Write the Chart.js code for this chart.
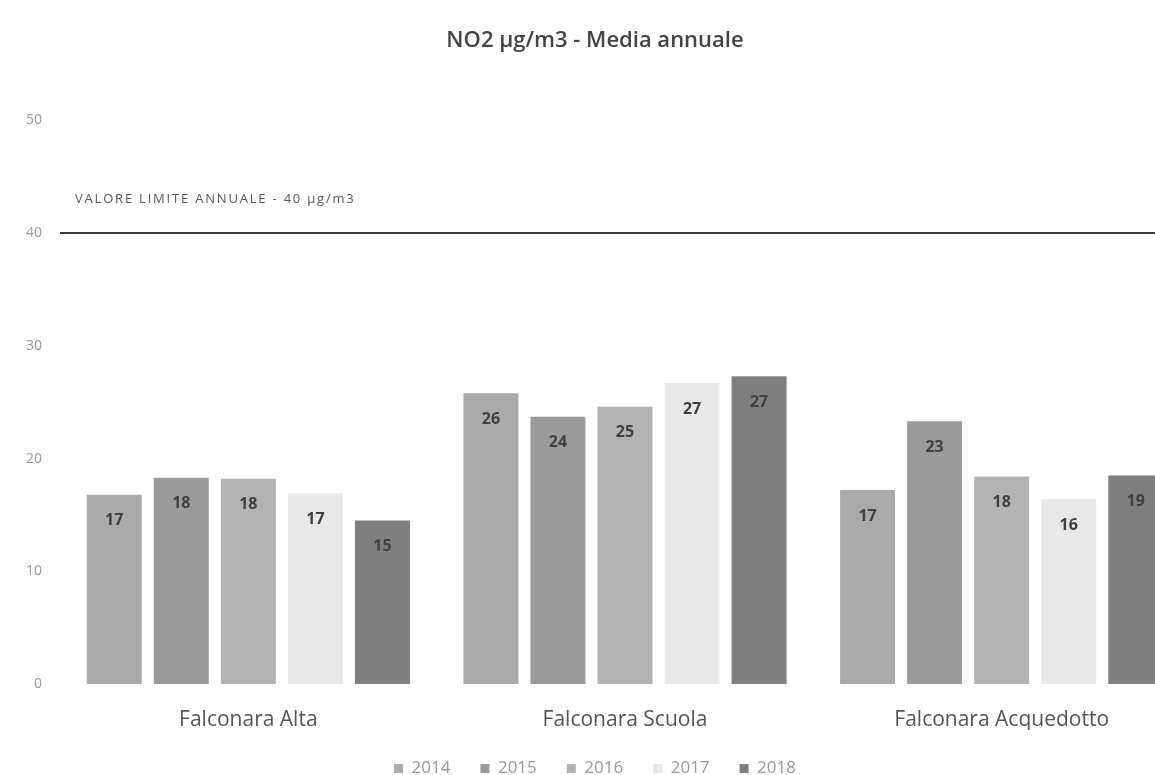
<!DOCTYPE html>
<html>
<head>
<meta charset="utf-8">
<script src="https://cdn.jsdelivr.net/npm/chart.js@4/dist/chart.umd.min.js"></script>
<style>
    html, body { margin: 0; padding: 0; background: #fff; overflow: hidden; }
    #wrap { width: 1190px; height: 787px; }
</style>
</head>
<body>
<div id="wrap"><canvas id="no2Chart"></canvas></div>
<script>
const stations = ['Falconara Alta', 'Falconara Scuola', 'Falconara Acquedotto'];
const years = ['2014', '2015', '2016', '2017', '2018'];
const values2014 = [16.8, 25.8, 17.2];
const values2015 = [18.3, 23.7, 23.3];
const values2016 = [18.2, 24.6, 18.4];
const values2017 = [16.9, 26.7, 16.4];
const values2018 = [14.5, 27.3, 18.5];
const yearColors = ['#aaaaaa', '#9b9b9b', '#b3b3b3', '#e8e8e8', '#7f7f7f'];
const limitValue = 40;
const limitLabel = 'VALORE LIMITE ANNUALE - 40 µg/m3';

const fontFamily = '"Open Sans", "Noto Sans", sans-serif';

// horizontal line for the annual limit
const limitLine = {
    id: 'limitLine',
    afterDatasetsDraw(chart) {
        const { ctx, chartArea, scales } = chart;
        const y = scales.y.getPixelForValue(limitValue);
        ctx.save();
        ctx.strokeStyle = '#3a3a3a';
        ctx.lineWidth = 2;
        ctx.beginPath();
        ctx.moveTo(chartArea.left, y);
        ctx.lineTo(chart.width, y);
        ctx.stroke();
        ctx.fillStyle = '#5a5a5a';
        ctx.font = '13px ' + fontFamily;
        ctx.letterSpacing = '1.8px';
        ctx.textBaseline = 'middle';
        ctx.fillText(limitLabel, chartArea.left + 15, y - 34);
        ctx.restore();
    },
};

// value labels inside the top of each bar
const barLabels = {
    id: 'barLabels',
    afterDatasetsDraw(chart) {
        const { ctx } = chart;
        ctx.save();
        ctx.fillStyle = '#404040';
        ctx.font = 'bold 16px ' + fontFamily;
        ctx.textAlign = 'center';
        ctx.textBaseline = 'middle';
        chart.data.datasets.forEach((ds, i) => {
            chart.getDatasetMeta(i).data.forEach((bar, j) => {
                ctx.fillText(Math.round(ds.data[j]), bar.x, bar.y + 26);
            });
        });
        ctx.restore();
    },
};

const seriesValues = [values2014, values2015, values2016, values2017, values2018];

new Chart(document.getElementById('no2Chart'), {
    type: 'bar',
    data: {
        labels: stations,
        datasets: years.map((year, i) => ({
            label: year,
            data: seriesValues[i],
            backgroundColor: yearColors[i],
            borderWidth: 0,
            categoryPercentage: 0.89,
            barPercentage: 0.82,
        })),
    },
    options: {
        responsive: true,
        maintainAspectRatio: false,
        animation: false,
        scales: {
            x: {
                afterFit(scale) { scale.height = 46; },
                grid: { display: false },
                border: { display: false },
                ticks: { color: '#555', font: { family: fontFamily, size: 21 }, padding: 15 },
            },
            y: {
                min: 0,
                max: 50,
                afterFit(scale) { scale.width = 60; },
                grid: { display: false },
                border: { display: false },
                ticks: { stepSize: 10, color: '#999', padding: 10, font: { family: fontFamily, size: 14 } },
            },
        },
        plugins: {
            title: {
                display: true,
                text: 'NO2 µg/m3 - Media annuale',
                color: '#444',
                font: { family: fontFamily, size: 22, weight: '600' },
                padding: { top: 28, bottom: 66 },
            },
            legend: {
                position: 'bottom',
                labels: {
                    color: '#999',
                    boxWidth: 9,
                    boxHeight: 9,
                    padding: 30,
                    font: { family: fontFamily, size: 17 },
                },
            },
            tooltip: { enabled: false },
        },
    },
    plugins: [limitLine, barLabels],
});
</script>
</body>
</html>
